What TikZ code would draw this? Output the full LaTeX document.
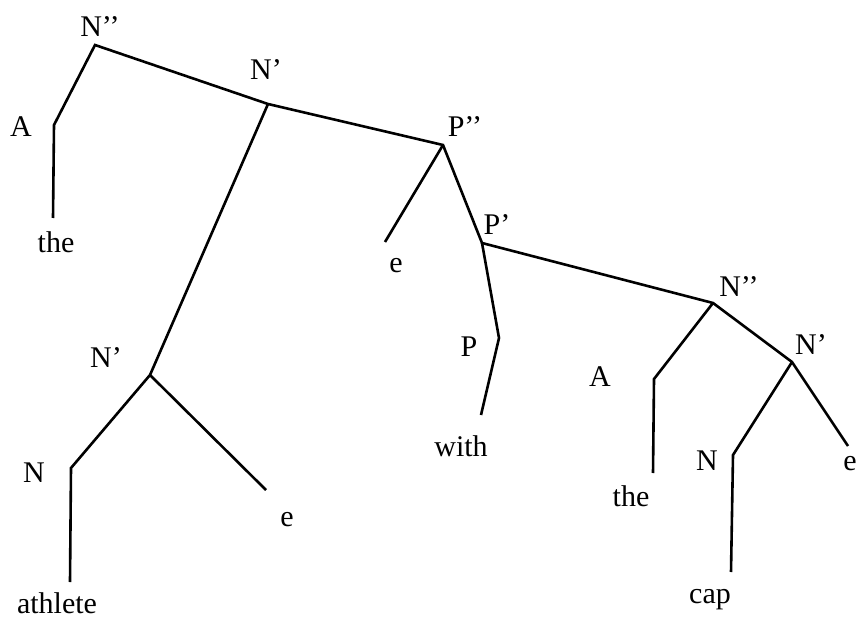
\documentclass[tikz,border=0pt]{standalone}
\usepackage{fontspec}
\setmainfont{Liberation Serif}
\begin{document}
\begin{tikzpicture}[x=1pt,y=-1pt,
  lbl/.style={inner sep=0pt,font=\fontsize{30}{34}\selectfont},
  branch/.style={line width=2.6pt,line join=miter}]
\useasboundingbox (0,0) rectangle (858,620);
% vertices
\coordinate (vN2a) at (95,45);
\coordinate (vAa) at (54,125);
\coordinate (eThea) at (53,218);
\coordinate (vN1a) at (268,104);
\coordinate (vP2) at (443,145);
\coordinate (eE1) at (385,242);
\coordinate (vP1) at (482,243);
\coordinate (vP) at (499,338);
\coordinate (eWith) at (481,415);
\coordinate (vN2b) at (713,303);
\coordinate (vAb) at (654,379);
\coordinate (eTheb) at (653,473);
\coordinate (vN1b) at (792,362);
\coordinate (eE2) at (848,446);
\coordinate (vNb) at (733,455);
\coordinate (eCap) at (731,572);
\coordinate (vN1c) at (150,375);
\coordinate (vNc) at (71,468);
\coordinate (eAthlete) at (70,582);
\coordinate (eE3) at (266,490);
% labels
\node[lbl] (lN2a) at (100,27) {N’’};
\node[lbl] (lAa) at (21,127) {A};
\node[lbl] (tThea) at (56,242) {the};
\node[lbl] (lN1a) at (266,70) {N’};
\node[lbl] (lP2) at (465,127) {P’’};
\node[lbl] (tE1) at (396,266) {e};
\node[lbl] (lP1) at (497,225) {P’};
\node[lbl] (lP) at (469,347) {P};
\node[lbl] (tWith) at (461,446) {with};
\node[lbl] (lN2b) at (739,287) {N’’};
\node[lbl] (lAb) at (600,377) {A};
\node[lbl] (tTheb) at (631,496) {the};
\node[lbl] (lN1b) at (811,345) {N’};
\node[lbl] (tE2) at (850,464) {e};
\node[lbl] (lNb) at (707,461) {N};
\node[lbl] (tCap) at (710,600) {cap};
\node[lbl] (lN1c) at (106,358) {N’};
\node[lbl] (lNc) at (34,473) {N};
\node[lbl] (tAthlete) at (57,603) {athlete};
\node[lbl] (tE3) at (287,520) {e};
% branches
\draw[branch] (eThea) -- (vAa) -- (vN2a) -- (vN1a) -- (vP2) -- (vP1) -- (vN2b) -- (vN1b) -- (eE2);
\draw[branch] (vN1a) -- (vN1c) -- (vNc) -- (eAthlete);
\draw[branch] (vN1c) -- (eE3);
\draw[branch] (vP2) -- (eE1);
\draw[branch] (vP1) -- (vP) -- (eWith);
\draw[branch] (vN2b) -- (vAb) -- (eTheb);
\draw[branch] (vN1b) -- (vNb) -- (eCap);
\end{tikzpicture}
\end{document}
